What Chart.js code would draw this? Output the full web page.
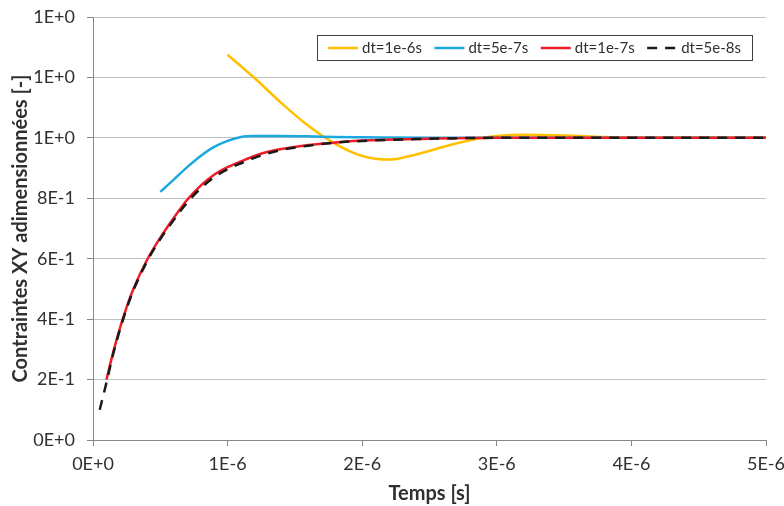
<!DOCTYPE html>
<html lang="fr">
<head>
    <meta charset="UTF-8">
    <title>Contraintes XY adimensionnées</title>
    <script src="https://cdn.jsdelivr.net/npm/chart.js@4.4.1/dist/chart.umd.min.js"></script>
    <style>
        body { margin: 0; background: #fff; }
        #wrap { width: 784px; height: 506px; position: relative; }
    </style>
</head>
<body>
<div id="wrap"><canvas id="chart"></canvas></div>
<script>
// temps en microsecondes
const xTickValues = [0, 1, 2, 3, 4, 5];
const xTickLabels = ['0E+0', '1E-6', '2E-6', '3E-6', '4E-6', '5E-6'];
const yTickValues = [0, 0.2, 0.4, 0.6, 0.8, 1.0, 1.2, 1.4];
const yTickLabels = ['0E+0', '2E-1', '4E-1', '6E-1', '8E-1', '1E+0', '1E+0', '1E+0'];

const seriesLabels = ['dt=1e-6s', 'dt=5e-7s', 'dt=1e-7s', 'dt=5e-8s'];

// dt=1e-6s
const t1 = [1.0, 1.2, 1.4, 1.6, 1.8, 2.0, 2.2, 2.4, 2.6, 2.8, 3.0, 3.2, 3.5, 3.8, 4.2, 5.0];
const y1 = [1.275, 1.198, 1.115, 1.04, 0.98, 0.94, 0.928, 0.945, 0.97, 0.992, 1.006, 1.01, 1.008, 1.003, 1.0, 1.0];

// dt=5e-7s
const t2 = [0.5, 0.6, 0.7, 0.8, 0.9, 1.0, 1.1, 1.2, 1.4, 1.6, 1.8, 2.0, 2.5, 3.0, 4.0, 5.0];
const y2 = [0.821, 0.862, 0.903, 0.94, 0.97, 0.99, 1.003, 1.006, 1.006, 1.005, 1.003, 1.002, 1.0, 1.0, 1.0, 1.0];

// dt=1e-7s
const t3 = [0.1, 0.15, 0.2, 0.25, 0.3, 0.4, 0.5, 0.6, 0.7, 0.8, 0.9, 1.0, 1.1, 1.2, 1.3, 1.4, 1.6, 1.8, 2.0, 2.4, 3.0, 4.0, 5.0];
const y3 = [0.2, 0.29, 0.37, 0.44, 0.5, 0.595, 0.67, 0.735, 0.795, 0.842, 0.878, 0.903, 0.922, 0.94, 0.954, 0.963, 0.976, 0.985, 0.991, 0.996, 1.0, 1.0, 1.0];

// dt=5e-8s
const t4 = [0.05, 0.1, 0.15, 0.2, 0.25, 0.3, 0.4, 0.5, 0.6, 0.7, 0.8, 0.9, 1.0, 1.1, 1.2, 1.3, 1.4, 1.6, 1.8, 2.0, 2.4, 3.0, 4.0, 5.0];
const y4 = [0.1, 0.19, 0.285, 0.365, 0.435, 0.495, 0.59, 0.665, 0.728, 0.786, 0.833, 0.87, 0.896, 0.916, 0.934, 0.949, 0.96, 0.974, 0.984, 0.99, 0.996, 1.0, 1.0, 1.0];

function points(ts, ys) {
    return ts.map((t, i) => ({ x: t, y: ys[i] }));
}

const FONT = 'Lato';
const TEXT = '#303030';
const AXIS = '#868686';
const GRID = '#c0c0c0';

// légende encadrée, posée dans la zone de tracé
const legendBox = {
    id: 'legendBox',
    afterDraw(chart) {
        const ctx = chart.ctx;
        const area = chart.chartArea;
        ctx.save();
        ctx.font = '15px ' + FONT;
        const sample = 30, gap = 4, spacing = 12.5, padX = 11, boxH = 25;
        const items = chart.data.datasets.map(ds => ({ ds, w: ctx.measureText(ds.label).width }));
        let total = 0;
        items.forEach(it => total += sample + gap + it.w);
        total += spacing * (items.length - 1);
        const right = area.right - 14;
        const left = right - total - padX * 2;
        const top = area.top + 18;
        ctx.fillStyle = '#fff';
        ctx.fillRect(left, top, right - left, boxH);
        ctx.strokeStyle = '#404040';
        ctx.lineWidth = 1;
        ctx.strokeRect(Math.round(left) + 0.5, Math.round(top) + 0.5, Math.round(right - left), boxH);
        const cy = top + boxH / 2 + 0.5;
        let x = left + padX;
        items.forEach(it => {
            ctx.beginPath();
            ctx.strokeStyle = it.ds.borderColor;
            ctx.lineWidth = it.ds.borderWidth;
            ctx.setLineDash(it.ds.borderDash || []);
            ctx.moveTo(x, cy);
            ctx.lineTo(x + sample, cy);
            ctx.stroke();
            ctx.setLineDash([]);
            ctx.fillStyle = TEXT;
            ctx.textBaseline = 'middle';
            ctx.fillText(it.ds.label, x + sample + gap, cy);
            x += sample + gap + it.w + spacing;
        });
        ctx.restore();
    }
};

new Chart(document.getElementById('chart'), {
    type: 'line',
    data: {
        datasets: [
            { label: seriesLabels[0], data: points(t1, y1), borderColor: '#FFC000', borderWidth: 2.5, order: 3 },
            { label: seriesLabels[1], data: points(t2, y2), borderColor: '#1BA8E0', borderWidth: 2.5, order: 2 },
            { label: seriesLabels[2], data: points(t3, y3), borderColor: '#EE1C25', borderWidth: 2.5, order: 1 },
            { label: seriesLabels[3], data: points(t4, y4), borderColor: '#1a1a1a', borderWidth: 2.5, borderDash: [10, 8], order: 0 }
        ]
    },
    options: {
        responsive: true,
        maintainAspectRatio: false,
        animation: false,
        layout: { padding: { top: 17, right: 18, bottom: 0, left: 0 } },
        elements: {
            point: { radius: 0 },
            line: { cubicInterpolationMode: 'monotone', fill: false }
        },
        plugins: {
            legend: { display: false },
            tooltip: { enabled: false }
        },
        scales: {
            x: {
                type: 'linear',
                min: 0,
                max: 5,
                afterBuildTicks: s => { s.ticks = xTickValues.map(v => ({ value: v })); },
                afterFit: s => { s.height = 66; s.paddingLeft = 0; s.paddingRight = 0; },
                ticks: {
                    callback: (v, i) => xTickLabels[i],
                    font: { family: FONT, size: 18 },
                    color: TEXT,
                    padding: 7,
                    maxRotation: 0
                },
                grid: { drawOnChartArea: false, drawTicks: true, tickLength: 6, tickColor: AXIS },
                border: { color: AXIS, width: 1 },
                title: {
                    display: true,
                    text: 'Temps [s]',
                    font: { family: FONT, size: 20, weight: 'bold' },
                    color: TEXT,
                    padding: { top: 0, bottom: 0 }
                }
            },
            y: {
                type: 'linear',
                min: 0,
                max: 1.4,
                afterBuildTicks: s => { s.ticks = yTickValues.map(v => ({ value: v })); },
                afterFit: s => { s.width = 93; s.paddingTop = 0; s.paddingBottom = 0; },
                ticks: {
                    callback: (v, i) => yTickLabels[i],
                    font: { family: FONT, size: 18 },
                    color: TEXT,
                    padding: 12
                },
                grid: { color: GRID, lineWidth: 1, drawTicks: true, tickLength: 6, tickColor: AXIS },
                border: { color: AXIS, width: 1 },
                title: {
                    display: true,
                    text: 'Contraintes XY adimensionnées [-]',
                    font: { family: FONT, size: 20, weight: 'bold' },
                    color: TEXT,
                    padding: { top: 9, bottom: 0 }
                }
            }
        }
    },
    plugins: [legendBox]
});
</script>
</body>
</html>
